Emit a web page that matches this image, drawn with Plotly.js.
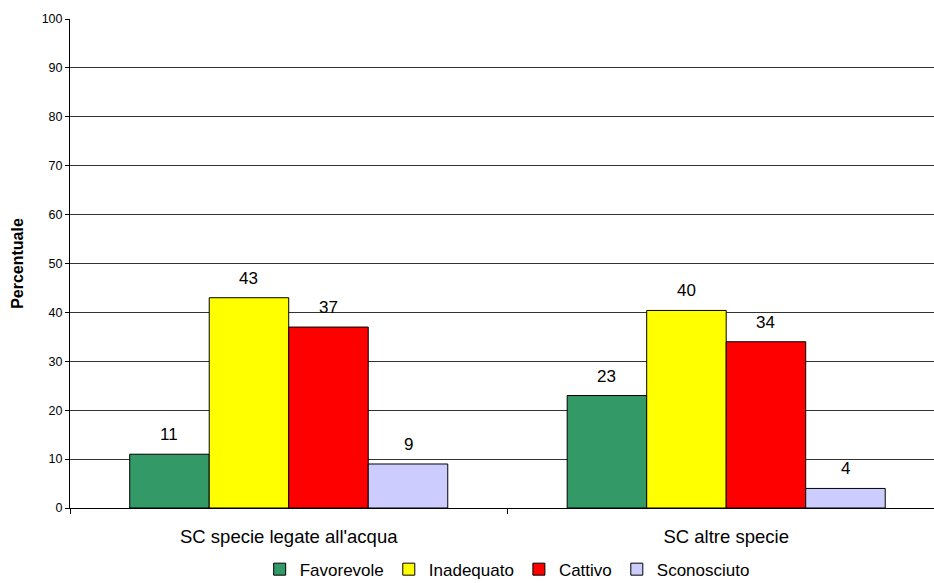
<!DOCTYPE html>
<html>
<head>
<meta charset="utf-8">
<script src="https://cdn.plot.ly/plotly-3.0.1.min.js"></script>
<style>html,body{margin:0;padding:0;background:#fff;}#chart{width:934px;height:583px;}</style>
</head>
<body>
<div id="chart"></div>
<script>
var categories = ["SC specie legate all'acqua", "SC altre specie"];
var seriesNames = ["Favorevole", "Inadequato", "Cattivo", "Sconosciuto"];
var favorevole = [11, 23];
var inadequato = [43, 40.4];
var cattivo = [37, 34];
var sconosciuto = [9, 4];
var colors = ["#339966", "#FFFF00", "#FF0000", "#CCCCFF"];
var yTicks = [0, 10, 20, 30, 40, 50, 60, 70, 80, 90, 100];

var seriesValues = [favorevole, inadequato, cattivo, sconosciuto];
var FONT = "Liberation Sans, Arial, sans-serif";
var bargap = 0.273;

var traces = seriesValues.map(function (vals, i) {
  return {
    type: "bar",
    name: seriesNames[i],
    x: categories,
    y: vals,
    marker: { color: colors[i], line: { color: "#000", width: 1 } },
    hoverinfo: "y"
  };
});

// data labels placed from the data through the axes
var annotations = [];
var n = seriesValues.length;
var bw = (1 - bargap) / n;
seriesValues.forEach(function (vals, i) {
  var off = -(1 - bargap) / 2 + (i + 0.5) * bw;
  vals.forEach(function (v, j) {
    annotations.push({
      x: j + off, y: v, xref: "x", yref: "y",
      text: String(Math.round(v)), showarrow: false,
      yanchor: "bottom", yshift: 8,
      font: { family: FONT, size: 17, color: "#000" }
    });
  });
});

var layout = {
  width: 934, height: 583,
  margin: { l: 70, r: 0, t: 19, b: 75, autoexpand: false },
  paper_bgcolor: "#fff", plot_bgcolor: "#fff",
  font: { family: FONT, color: "#000" },
  barmode: "group", bargap: bargap, bargroupgap: 0,
  showlegend: true,
  legend: {
    orientation: "h", x: 0.506, xanchor: "center",
    y: -0.126, yanchor: "middle",
    font: { family: FONT, size: 17, color: "#000" },
    itemwidth: 30, traceorder: "normal", bgcolor: "rgba(0,0,0,0)"
  },
  xaxis: {
    type: "category", range: [-0.5, 1.475],
    showline: true, linecolor: "#000", linewidth: 1,
    ticks: "outside", tickson: "boundaries", ticklen: 5, tickcolor: "#000",
    showgrid: false, zeroline: false, fixedrange: true,
    tickfont: { family: FONT, size: 18.5, color: "#000" },
    ticklabelstandoff: 12
  },
  yaxis: {
    range: [0, 100], tickvals: yTicks, ticktext: yTicks.map(String),
    showline: true, linecolor: "#000", linewidth: 1,
    ticks: "outside", ticklen: 4, tickcolor: "#000",
    showgrid: true, gridcolor: "#333", gridwidth: 1,
    zeroline: false, fixedrange: true,
    tickfont: { family: FONT, size: 12.5, color: "#000" },
    title: { text: "<b>Percentuale</b>", font: { family: FONT, size: 16, color: "#000" }, standoff: 14 }
  },
  annotations: annotations
};

Plotly.newPlot("chart", traces, layout, { displayModeBar: false, staticPlot: true });
</script>
</body>
</html>
